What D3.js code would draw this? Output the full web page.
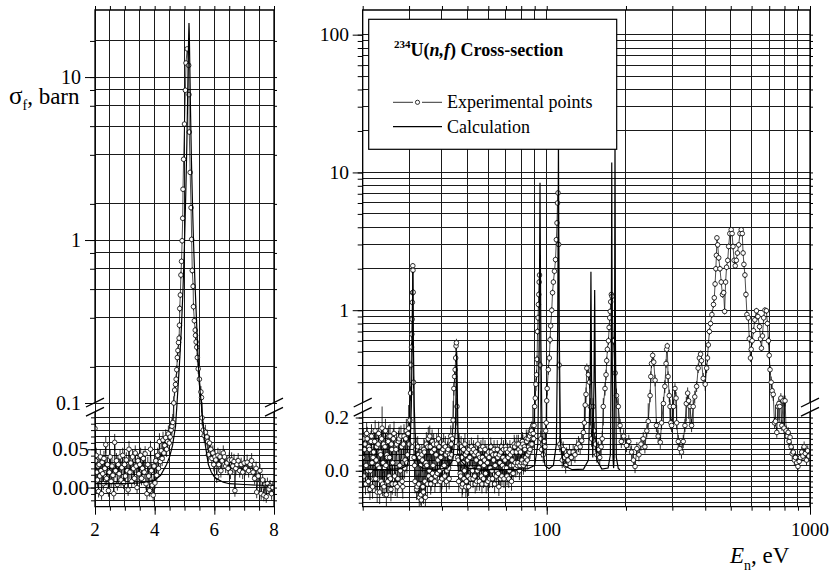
<!DOCTYPE html>
<html>
<head>
<meta charset="utf-8">
<script src="https://cdn.jsdelivr.net/npm/d3@7"></script>
<style>
  body { margin: 0; background: #fff; }
  svg { display: block; font-family: "Liberation Serif", "Times New Roman", serif; }
</style>
</head>
<body>
<svg id="chart" width="831" height="578"></svg>
<script>
// ---- tick labels ----
const leftXLabels = [2, 4, 6, 8];
const leftUpLabels = [0.1, 1, 10];
const leftLoLabels = [0, 0.05];
const rightXLabels = [100, 1000];
const rightUpLabels = [1, 10, 100];
const rightLoLabels = [0, 0.2];

// ---- 5 eV region: calculation [E, sigma] ----
const leftCalc = [
  [2.0,0.005],[2.5,0.005],[3.0,0.005],[3.5,0.006],[3.8,0.008],[4.0,0.0095],[4.2,0.016],[4.4,0.03],
  [4.5,0.04],[4.6,0.055],[4.7,0.08],[4.75,0.1],[4.8,0.14],[4.85,0.2],[4.9,0.3],[4.95,0.5],
  [5.0,0.95],[5.05,2.2],[5.08,4.0],[5.1,6.5],[5.12,11],[5.14,18],[5.15,21.5],[5.16,19],
  [5.18,11],[5.2,6.5],[5.23,3.2],[5.27,1.6],[5.3,1.0],[5.35,0.55],[5.4,0.33],[5.45,0.2],
  [5.5,0.13],[5.56,0.1],[5.62,0.085],[5.7,0.055],[5.8,0.03],[5.9,0.02],[6.0,0.014],[6.1,0.011],
  [6.3,0.007],[6.5,0.005],[7.0,0.004],[7.5,0.003],[8.0,0.003]
];

// ---- 5 eV region: experiment [E, sigma, error] ----
const leftExp = [
  [2.00,0.077,0.012],[2.02,0.035,0.01],[2.04,0.042,0.01],[2.06,0.020,0.009],[2.08,0.010,0.009],
  [2.10,0.028,0.01],[2.12,-0.005,0.008],[2.14,0.030,0.01],[2.16,0.015,0.009],[2.18,0.040,0.01],
  [2.20,0.022,0.009],[2.22,-0.008,0.008],[2.24,0.033,0.01],[2.26,0.018,0.009],[2.28,0.005,0.008],
  [2.30,0.038,0.01],[2.33,0.025,0.009],[2.36,0.056,0.011],[2.39,0.012,0.009],[2.42,0.030,0.01],
  [2.45,-0.004,0.008],[2.48,0.020,0.009],[2.51,0.040,0.01],[2.54,0.008,0.008],[2.57,0.028,0.01],
  [2.60,0.016,0.009],[2.63,-0.008,0.008],[2.66,0.059,0.011],[2.69,0.022,0.009],[2.72,0.035,0.01],
  [2.75,0.004,0.008],[2.78,0.030,0.01],[2.81,0.018,0.009],[2.84,0.040,0.01],[2.87,0.010,0.009],
  [2.90,0.026,0.009],[2.93,0.042,0.01],[2.96,0.006,0.008],[2.99,0.030,0.01],[3.02,0.015,0.009],
  [3.05,0.036,0.01],[3.08,0.022,0.009],[3.11,-0.003,0.008],[3.14,0.050,0.011],[3.17,0.020,0.009],
  [3.20,0.032,0.01],[3.23,0.008,0.008],[3.26,0.040,0.01],[3.29,0.025,0.009],[3.32,0.012,0.009],
  [3.35,0.045,0.01],[3.38,0.028,0.009],[3.41,0.000,0.008],[3.44,0.035,0.01],[3.47,0.018,0.009],
  [3.50,0.030,0.01],[3.53,0.042,0.01],[3.56,0.012,0.009],[3.59,0.025,0.009],[3.62,0.038,0.01],
  [3.65,0.020,0.009],[3.68,0.044,0.01],[3.71,0.005,0.008],[3.74,-0.008,0.008],[3.77,0.030,0.01],
  [3.80,0.015,0.009],[3.83,-0.004,0.008],[3.86,0.050,0.011],[3.89,0.022,0.009],[3.92,0.003,0.008],
  [3.95,-0.010,0.008],[3.98,0.028,0.009],[4.01,0.006,0.008],[4.04,0.035,0.01],[4.07,0.016,0.009],
  [4.10,0.042,0.01],[4.13,0.025,0.009],[4.16,0.060,0.011],[4.19,0.034,0.01],[4.22,0.048,0.01],
  [4.25,0.038,0.01],[4.28,0.062,0.011],[4.31,0.045,0.01],[4.34,0.055,0.01],[4.37,0.065,0.011],
  [4.40,0.050,0.01],[4.43,0.060,0.01],[4.46,0.070,0.011],[4.49,0.058,0.01],[4.52,0.066,0.01],
  [4.55,0.075,0.011],[4.58,0.080,0.011],[4.61,0.085,0.011],[4.64,0.100,0.01],[4.67,0.120,0.01],
  [4.70,0.130,0.01],[4.72,0.140,0.01],[4.74,0.160,0.01],[4.76,0.190,0.012],[4.78,0.210,0.012],
  [4.80,0.235,0.013],[4.82,0.250,0.014],[4.83,0.300,0.015],[4.84,0.380,0.02],[4.86,0.460,0.02],
  [4.88,0.610,0.03],[4.90,0.740,0.03],[4.92,0.990,0.04],[4.94,1.36,0.05],[4.95,2.05,0.07],
  [4.97,3.13,0.1],[5.00,5.15,0.15],[5.03,8.3,0.25],[5.05,12.2,0.35],[5.09,14.9,0.4],
  [5.14,11.8,0.35],[5.15,7.8,0.25],[5.16,4.6,0.15],[5.19,2.6,0.09],[5.22,1.58,0.06],
  [5.24,1.01,0.04],[5.26,0.65,0.03],[5.29,0.52,0.025],[5.30,0.39,0.02],[5.33,0.32,0.015],
  [5.36,0.28,0.014],[5.37,0.26,0.013],[5.39,0.237,0.012],[5.41,0.22,0.012],[5.43,0.19,0.012],
  [5.46,0.162,0.011],[5.50,0.14,0.01],[5.55,0.117,0.01],[5.57,0.108,0.01],[5.59,0.091,0.01],
  [5.63,0.075,0.01],[5.66,0.068,0.01],[5.70,0.072,0.01],[5.72,0.064,0.01],[5.75,0.066,0.01],
  [5.78,0.060,0.01],[5.80,0.043,0.009],[5.84,0.058,0.01],[5.88,0.050,0.01],[5.92,0.038,0.009],
  [5.95,0.045,0.01],[5.98,0.030,0.009],[6.02,0.040,0.01],[6.05,0.036,0.009],[6.08,0.014,0.008],
  [6.12,0.042,0.01],[6.15,0.030,0.009],[6.19,0.040,0.01],[6.22,0.022,0.009],[6.26,0.035,0.01],
  [6.30,0.045,0.01],[6.34,0.040,0.01],[6.38,0.028,0.009],[6.42,0.032,0.009],[6.46,0.025,0.009],
  [6.50,0.036,0.01],[6.54,0.020,0.009],[6.58,0.036,0.01],[6.62,0.028,0.009],[6.66,0.034,0.01],
  [6.69,-0.004,0.008],[6.72,0.025,0.009],[6.76,0.030,0.009],[6.80,0.035,0.01],[6.85,0.022,0.009],
  [6.90,0.030,0.009],[6.95,0.020,0.009],[7.00,0.032,0.01],[7.05,0.025,0.009],[7.10,0.033,0.01],
  [7.15,0.022,0.009],[7.20,0.030,0.009],[7.25,0.035,0.01],[7.30,0.020,0.009],[7.35,0.012,0.008],
  [7.40,0.025,0.009],[7.42,-0.006,0.008],[7.47,0.015,0.008],[7.53,0.022,0.009],[7.57,-0.008,0.008],
  [7.62,0.010,0.008],[7.66,-0.010,0.008],[7.70,0.004,0.008],[7.74,-0.012,0.008],[7.78,0.005,0.008],
  [7.83,-0.002,0.008],[7.87,0.002,0.008],[7.92,-0.008,0.008],[7.96,0.000,0.008]
];

// ---- 20-1000 eV region: calculation [E, sigma] ----
const rightCalc = [
  [20,0.004],[25,0.005],[28,0.008],[29.5,0.02],[30.2,0.06],[30.6,0.2],[30.85,0.6],[31.0,1.9],
  [31.15,0.6],[31.4,0.2],[31.8,0.06],[32.6,0.02],[34,0.008],[38,0.005],[42,0.01],[44,0.04],
  [45.0,0.15],[45.5,0.5],[46.0,0.15],[47,0.04],[50,0.01],[60,0.004],[75,0.004],[85,0.008],
  [90,0.02],[92.5,0.1],[93.6,0.6],[94.0,2.5],[94.3,8.4],[94.6,2.5],[95.0,0.6],[96.1,0.1],
  [98.5,0.02],[102,0.008],[106,0.02],[108.8,0.1],[110.1,0.8],[110.5,4],[110.8,18],[111.1,4],
  [111.5,0.8],[112.8,0.1],[116,0.02],[125,0.004],[138,0.006],[144,0.04],[146.3,0.3],[147.2,1.9],
  [148.1,0.3],[149.6,0.05],[151.2,0.3],[152.1,1.4],[153,0.3],[155,0.04],[162,0.006],[171,0.01],
  [174.5,0.06],[175.9,0.5],[176.6,11.8],[177.3,0.5],[178.5,0.05],[179.5,0.01],[180.3,0.05],
  [181.0,0.6],[181.7,20],[182.4,0.6],[183.8,0.05],[187,0.008],[190,0.004]
];

// ---- 20-1000 eV region: experiment [E, sigma, error] ----
const rightExp = [
  [20.0,.05,.045],[20.1,.12,.04],[20.2,-.02,.045],[20.3,.08,.04],[20.4,.10,.045],[20.5,-.05,.04],
  [20.6,.02,.045],[20.7,.14,.04],[20.8,.12,.045],[20.9,.0,.04],[21.0,-.04,.045],[21.1,.09,.04],
  [21.2,.08,.045],[21.3,-.07,.04],[21.4,.0,.045],[21.5,.11,.04],[21.6,.13,.045],[21.7,.03,.04],
  [21.8,-.06,.045],[21.9,.05,.04],[22.0,.07,.045],[22.1,-.03,.04],[22.2,.11,.045],[22.3,.15,.04],
  [22.4,-.03,.045],[22.5,.04,.04],[22.6,.09,.045],[22.7,-.08,.04],[22.8,.02,.045],[22.9,.10,.04],
  [23.0,.14,.045],[23.1,.01,.04],[23.2,-.08,.045],[23.3,.07,.04],[23.4,.06,.045],[23.5,-.04,.04],
  [23.6,.12,.045],[23.7,.16,.04],[23.8,-.05,.045],[23.9,.03,.04],[24.0,.10,.045],[24.1,-.06,.04],
  [24.2,.01,.045],[24.3,.09,.04],[24.4,.15,.045],[24.5,.02,.04],[24.6,-.09,.045],[24.7,.06,.04],
  [24.8,.05,.045],[24.9,-.04,.04],[25.0,.11,.045],[25.1,.13,.04],[25.2,-.02,.045],[25.3,.05,.04],
  [25.4,.13,.045],[25.5,-.03,.04],[25.6,-.07,.045],[25.7,.10,.04],[25.8,.08,.045],[25.9,-.05,.04],
  [26.0,.03,.045],[26.15,.12,.04],[26.3,.14,.045],[26.45,-.02,.04],[26.6,-.05,.045],[26.75,.08,.04],
  [26.9,.10,.045],[27.05,-.06,.04],[27.2,-.03,.045],[27.35,.11,.04],[27.5,.12,.045],[27.65,.02,.04],
  [27.8,.0,.045],[27.95,.13,.04],[28.1,.09,.045],[28.25,-.04,.04],[28.4,-.06,.045],[28.55,.10,.04],
  [28.7,.13,.045],[28.85,.01,.04],[29.0,.04,.045],[29.15,.12,.04],[29.3,.15,.045],[29.45,.03,.04],
  [29.6,.06,.045],[29.75,.14,.04],[29.9,.16,.045],[30.05,.10,.04],
  [30.2,0.19,.03],[30.4,0.25,.03],[30.55,0.40,.03],[30.65,0.54,.04],[30.75,0.67,.04],[30.82,0.86,.05],
  [30.88,1.14,.06],[30.94,1.34,.07],[31.0,2.1,.1],[31.04,1.95,.1],[31.1,1.35,.07],[31.2,0.30,.03],
  [31.35,0.05,.04],
  [31.5,.02,.04],[31.6,-.04,.045],[31.75,.10,.04],[31.9,.08,.045],[32.05,-.07,.04],[32.2,-.06,.045],
  [32.35,.09,.04],[32.5,.06,.045],[32.65,-.05,.04],[32.8,-.10,.045],[32.95,.05,.04],[33.1,.02,.045],
  [33.25,-.09,.04],[33.4,-.11,.045],[33.55,.06,.04],[33.7,.04,.045],[33.85,-.06,.04],[34.0,-.08,.045],
  [34.15,.08,.04],[34.3,.07,.045],[34.45,-.04,.04],[34.6,-.10,.045],[34.75,.03,.04],[34.9,.10,.045],
  [35.05,.02,.04],[35.2,-.05,.045],[35.35,.09,.04],[35.5,.12,.045],[35.65,-.02,.04],[35.8,.0,.045],
  [35.95,.13,.04],[36.1,.09,.045],[36.25,-.05,.04],[36.4,-.03,.045],[36.55,.07,.04],[36.7,.11,.045],
  [36.85,-.01,.04],[37.0,.02,.04],[37.2,.10,.04],[37.4,.08,.04],[37.6,-.04,.04],[37.8,-.02,.04],
  [38.0,.06,.04],[38.2,.10,.04],[38.4,-.01,.04],[38.6,.04,.04],[38.8,.12,.04],[39.0,.09,.04],
  [39.2,.0,.04],[39.4,-.04,.04],[39.6,.05,.04],[39.8,.07,.04],[40.0,-.03,.04],[40.2,.01,.04],
  [40.4,.08,.04],[40.6,.10,.04],[40.8,.02,.04],[41.0,-.02,.04],[41.2,.09,.04],[41.4,.06,.04],
  [41.6,-.04,.04],[41.8,.0,.04],[42.0,.07,.04],[42.2,.08,.04],[42.4,.01,.04],[42.6,-.03,.04],
  [42.8,.06,.04],[43.0,.05,.04],[43.2,.13,.04],[43.4,.10,.04],[43.6,.06,.04],[43.8,.12,.04],
  [44.1,0.19,.03],[44.4,0.27,.03],[44.7,0.33,.03],[44.9,0.37,.03],[45.1,0.45,.03],[45.25,0.55,.04],
  [45.4,0.58,.04],[45.6,0.20,.03],[45.9,0.05,.035],
  [46.1,.04,.04],[46.3,-.04,.04],[46.5,.10,.04],[46.7,.07,.04],[46.9,-.01,.04],[47.1,-.02,.04],
  [47.3,.09,.04],[47.5,.05,.04],[47.7,-.06,.04],[47.9,-.05,.04],[48.1,.03,.04],[48.3,.08,.04],
  [48.5,-.03,.04],[48.7,.0,.04],[48.9,.10,.04],[49.1,.06,.04],[49.3,-.06,.04],[49.5,-.04,.04],
  [49.75,.07,.035],[50.0,.04,.035],[50.25,-.02,.035],[50.5,-.06,.035],[50.75,.08,.035],[51.0,.05,.035],
  [51.25,-.03,.035],[51.5,.01,.035],[51.75,.09,.035],[52.0,.07,.035],[52.25,.0,.035],[52.5,-.03,.035],
  [52.75,.08,.035],[53.0,.06,.035],[53.25,-.02,.035],[53.5,-.05,.035],[53.75,.07,.035],[54.0,.04,.035],
  [54.25,-.04,.035],[54.5,.0,.035],[54.75,.10,.035],[55.0,.06,.035],[55.25,.01,.035],[55.5,-.04,.035],
  [55.75,.05,.035],[56.0,.03,.035],[56.25,.08,.035],[56.5,-.02,.035],[56.75,-.05,.035],[57.0,.05,.035],
  [57.25,.09,.035],[57.5,-.03,.035],[57.75,.02,.035],[58.0,.04,.035],[58.3,.08,.035],[58.6,-.01,.035],
  [58.9,-.05,.035],[59.2,.06,.035],[59.5,.03,.035],[59.8,-.04,.035],[60.1,.07,.035],[60.4,.05,.035],
  [60.7,-.03,.035],[61.0,.01,.035],[61.3,.09,.035],[61.6,.07,.035],[61.9,.0,.035],[62.2,-.03,.035],
  [62.5,.06,.035],[62.8,.04,.035],[63.1,.08,.035],[63.4,-.05,.035],[63.7,.02,.035],[64.0,.06,.035],
  [64.3,-.02,.035],[64.6,.0,.035],[64.9,.08,.035],[65.2,.05,.035],[65.5,-.01,.035],[65.8,-.06,.035],
  [66.1,.06,.035],[66.4,.03,.035],[66.7,-.03,.035],[67.0,.07,.035],[67.3,.09,.035],[67.6,-.02,.035],
  [67.9,.02,.035],[68.2,.05,.035],[68.5,.08,.035],[68.8,-.03,.035],[69.1,.01,.035],[69.4,.04,.035],
  [69.7,.09,.035],[70.0,.08,.035],[70.35,.01,.035],[70.7,-.02,.035],[71.05,.07,.035],[71.4,.05,.035],
  [71.75,-.03,.035],[72.1,.0,.035],[72.45,.08,.035],[72.8,.06,.035],[73.15,.02,.035],[73.5,-.04,.035],
  [73.85,.04,.035],[74.2,.07,.035],[74.55,-.01,.035],[74.9,.02,.035],[75.25,.10,.035],[75.6,.09,.035],
  [75.95,.03,.035],[76.3,.01,.035],[76.65,.07,.035],[77.0,.10,.035],[77.35,.02,.035],[77.7,.03,.035],
  [78.05,.10,.035],[78.4,.08,.035],[78.75,.0,.035],[79.1,.02,.035],[79.45,.07,.035],[79.8,.09,.035],
  [80.15,.03,.035],[80.5,.04,.035],[80.85,.11,.035],[81.2,.10,.035],[81.55,.02,.035],[81.9,.03,.035],
  [82.25,.09,.035],[82.6,.08,.035],[82.95,.03,.035],[83.3,.05,.035],[83.65,.12,.035],[84.0,.11,.035],
  [84.35,.04,.035],[84.7,.06,.035],[85.05,.12,.035],[85.4,.09,.035],[85.75,.07,.035],[86.1,.13,.035],
  [86.45,.08,.035],[86.8,.10,.035],[87.15,.14,.035],[87.5,.15,.035],[87.85,.10,.035],[88.2,.12,.035],
  [88.55,.17,.035],[88.9,.14,.035],[89.2,.12,.035],[89.5,.17,.035],
  [90.0,0.20,.03],[90.5,0.23,.03],[91.0,0.29,.03],[91.5,0.34,.03],[91.9,0.44,.03],[92.3,0.70,.04],
  [92.7,0.88,.05],[93.0,1.1,.06],[93.3,1.3,.07],[93.6,1.6,.08],[93.9,1.8,.09],[94.4,0.40,.03],
  [95.0,0.12,.03],[95.6,0.08,.03],[96.3,0.10,.03],[97.0,0.06,.03],[97.7,0.11,.03],[98.4,0.09,.03],
  [99.1,0.15,.03],[99.6,0.18,.03],[100.0,0.22,.03],[100.4,0.27,.03],[101.4,0.37,.03],[102.3,0.45,.03],
  [103.0,0.61,.04],[103.5,0.77,.04],[104.5,1.0,.05],[105.2,1.34,.07],[106.0,1.6,.08],[107.0,1.92,.1],
  [108.0,2.33,.12],[108.8,3.25,.15],[109.4,4.3,.2],[109.9,6.0,.25],[110.4,7.1,.3],[111.0,3.0,.12],
  [111.5,0.40,.03],[112.2,0.10,.03],[113.5,0.09,.03],[114.5,0.04,.03],[115.5,0.08,.03],[116.5,0.05,.03],
  [118.0,0.02,.03],[119.0,0.058,.03],[120.5,0.04,.03],[122.0,0.07,.03],[124.0,0.05,.03],[126.0,0.07,.03],
  [128.0,0.06,.03],[130.0,0.087,.03],[132.0,0.10,.03],[134.0,0.09,.03],[135.8,0.113,.03],[137.8,0.144,.03],
  [139.0,0.18,.03],[140.0,0.205,.03],[141.0,0.245,.03],[142.0,0.38,.03],[144.0,0.34,.03],[145.5,0.30,.03],
  [146.5,0.20,.03],[148.0,0.12,.03],[150.0,0.20,.03],[151.5,0.15,.03],[153.0,0.10,.03],[155.0,0.06,.03],
  [157.0,0.08,.03],[159.0,0.05,.03],[161.0,0.09,.03],[162.5,0.12,.03],[164.0,0.20,.03],[166.5,0.27,.03],
  [168.0,0.34,.03],[169.0,0.43,.03],[170.0,0.52,.03],[171.6,0.60,.04],[172.6,0.75,.04],[173.5,0.88,.05],
  [174.3,0.98,.05],[175.0,1.15,.06],[176.0,1.30,.07],[177.0,1.26,.07],[179.0,0.60,.04],[182.0,0.35,.03],
  [184.0,0.24,.03],[187.0,0.20,.03],[190.0,0.17,.025],[192.0,0.11,.025],[196.0,0.13,.025],[201.0,0.095,.025],
  [205.0,0.11,.025],[210.0,0.07,.025],[213.5,0.04,.025],[216.5,0.016,.025],[220.0,0.083,.025],[224.0,0.06,.025],
  [228.0,0.10,.025],[232.6,0.12,.025],[236.0,0.09,.025],[240.0,0.15,.025],[243.0,0.186,.025],[247.0,0.24,.025],
  [248.5,0.33,.03],[250.0,0.41,.03],[252.6,0.47,.03],[255.0,0.42,.03],[258.0,0.31,.03],[261.0,0.17,.025],
  [265.0,0.13,.025],[270.0,0.107,.025],[273.0,0.18,.025],[277.5,0.21,.025],[281.0,0.28,.03],[284.0,0.41,.03],
  [285.5,0.52,.03],[287.0,0.55,.03],[289.0,0.33,.03],[292.0,0.24,.025],[294.0,0.20,.025],[296.0,0.18,.025],
  [298.0,0.17,.025],[303.0,0.20,.025],[307.0,0.27,.025],[310.0,0.23,.025],[311.6,0.18,.025],[316.0,0.11,.025],
  [320.5,0.083,.025],[325.0,0.07,.025],[330.0,0.11,.025],[335.0,0.17,.025],[339.0,0.21,.025],[343.0,0.25,.025],
  [346.0,0.22,.025],[350.0,0.20,.025],[355.0,0.17,.025],[360.0,0.20,.025],[365.0,0.235,.025],[371.0,0.28,.025],
  [376.0,0.38,.03],[380.0,0.45,.03],[384.0,0.48,.03],[387.0,0.43,.03],[393.0,0.32,.03],[400.0,0.29,.03],
  [405.0,0.38,.03],[408.0,0.45,.03],[411.0,0.56,.03],[415.0,0.70,.04],[419.0,0.80,.04],[424.0,0.93,.05],
  [430.0,1.10,.06],[433.0,1.23,.06],[436.0,1.55,.08],[439.0,2.0,.1],[441.0,2.5,.12],[443.0,3.35,.15],
  [446.0,2.98,.14],[450.0,2.4,.12],[455.0,2.0,.1],[460.0,1.6,.08],[465.0,1.3,.07],[470.0,1.34,.07],
  [474.0,0.98,.05],[478.0,1.6,.08],[482.0,2.05,.1],[487.0,2.3,.11],[491.0,2.9,.14],[496.0,3.6,.16],
  [502.0,3.84,.17],[506.0,3.6,.16],[510.0,2.9,.14],[515.0,2.3,.11],[520.0,2.1,.1],[525.0,2.3,.11],
  [530.0,2.6,.12],[536.0,2.98,.14],[542.0,3.6,.16],[548.0,3.84,.17],[553.0,3.6,.16],[557.0,2.6,.12],
  [561.0,2.15,.1],[566.0,1.8,.09],[571.0,1.3,.07],[576.0,0.93,.05],[583.0,0.88,.05],[588.0,0.62,.04],
  [594.0,0.45,.03],[598.0,0.52,.03],[603.0,0.60,.04],[610.0,0.71,.04],[617.0,0.85,.05],[626.0,0.99,.05],
  [634.0,0.90,.05],[643.0,0.76,.04],[649.0,0.62,.04],[654.0,0.53,.03],[660.0,0.65,.04],[667.0,0.88,.05],
  [674.0,1.0,.05],[683.0,0.99,.05],[689.0,0.80,.04],[695.0,0.60,.04],[700.0,0.47,.03],[705.0,0.37,.03],
  [712.0,0.30,.03],[718.0,0.26,.03],[725.0,0.245,.025],[733.0,0.18,.02],[740.0,0.186,.02],[748.0,0.144,.02],
  [755.0,0.20,.02],[762.0,0.21,.02],[768.0,0.20,.02],[775.0,0.23,.02],[782.0,0.17,.02],[790.0,0.22,.02],
  [797.0,0.16,.02],[804.0,0.22,.02],[812.0,0.15,.02],[820.0,0.13,.02],[826.0,0.144,.02],[833.0,0.11,.02],
  [840.0,0.126,.02],[848.0,0.09,.02],[856.0,0.064,.02],[864.0,0.07,.02],[872.0,0.04,.02],[880.0,0.05,.02],
  [890.0,0.03,.02],[900.0,0.016,.02],[910.0,0.035,.02],[920.0,0.05,.02],[930.0,0.07,.02],[940.0,0.055,.02],
  [950.0,0.09,.02],[960.0,0.065,.02],[970.0,0.04,.02],[980.0,0.075,.02],[990.0,0.055,.02]
];

const svg = d3.select('#chart');
const yTop = 10, yBottom = 506.7;
const slashA = 402.6, slashB = 411.8; // centres of the axis-break marks

// grid values for the log parts
const sixths = (decades) => decades.flatMap(d => d3.range(1, 7).map(k => d * k / 6));
const nines = (decades) => decades.flatMap(d => d3.range(1, 10).map(k => d * k));

const panels = [
  {
    id: 'p1',
    x: d3.scaleLinear().domain([2, 8]).range([95, 274]),
    yUp: d3.scaleLog().domain([0.1, 25.8]).range([403, yTop]),
    yLo: d3.scaleLinear().domain([-0.025, 0.0917]).range([yBottom, 417.3]),
    brk: 0.1,
    xGrid: d3.range(2, 8.001, 0.5),
    upGrid: [0.1].concat(sixths([1, 10]), [100 / 6]),
    loGrid: d3.range(-2, 12).map(k => k / 120),
    xLabels: leftXLabels, upLabels: leftUpLabels, loLabels: leftLoLabels,
    fmtUp: d => String(d), fmtLo: d3.format('.2f'),
    upLabelX: 81, loLabelX: 89, upSize: 20, loSize: 21,
    exp: leftExp, calc: leftCalc
  },
  {
    id: 'p2',
    x: d3.scaleLog().domain([20, 1000]).range([362.7, 810]),
    yUp: d3.scaleLog().domain([0.2, 151]).range([406.5, yTop]),
    yLo: d3.scaleLinear().domain([-0.135, 0.2]).range([yBottom, 417.5]),
    brk: 0.2,
    xGrid: [20].concat(d3.range(3, 10).map(k => k * 10), d3.range(1, 11).map(k => k * 100)),
    upGrid: nines([0.1, 1, 10]).filter(v => v > 0.25).concat([100]),
    loGrid: d3.range(-6, 11).map(k => k * 0.02),
    xLabels: rightXLabels, upLabels: rightUpLabels, loLabels: rightLoLabels,
    fmtUp: d => String(d), fmtLo: d3.format('.1f'),
    upLabelX: 349, loLabelX: 349, upSize: 19.5, loSize: 19.5,
    exp: rightExp, calc: rightCalc
  }
];

panels.forEach(p => {
  const [x0, x1] = p.x.range();
  const yOf = v => (v >= p.brk ? p.yUp(v) : p.yLo(v));
  const g = svg.append('g').attr('class', p.id);

  // grid
  const grid = g.append('g').attr('stroke', '#1a1a1a').attr('stroke-width', 1)
    .attr('shape-rendering', 'crispEdges');
  grid.selectAll('.vx').data(p.xGrid).join('line').attr('class', 'vx')
    .attr('x1', d => p.x(d)).attr('x2', d => p.x(d)).attr('y1', yTop).attr('y2', yBottom);
  grid.selectAll('.hu').data(p.upGrid).join('line').attr('class', 'hu')
    .attr('x1', x0).attr('x2', x1).attr('y1', d => p.yUp(d)).attr('y2', d => p.yUp(d));
  grid.selectAll('.hl').data(p.loGrid).join('line').attr('class', 'hl')
    .attr('x1', x0).attr('x2', x1).attr('y1', d => p.yLo(d)).attr('y2', d => p.yLo(d));

  // data
  svg.append('clipPath').attr('id', 'clip-' + p.id)
    .append('rect').attr('x', x0).attr('y', yTop).attr('width', x1 - x0).attr('height', yBottom - yTop);
  const plot = g.append('g').attr('clip-path', `url(#clip-${p.id})`);
  const line = d3.line().x(d => p.x(d[0])).y(d => yOf(d[1]));

  plot.append('path').datum(p.exp).attr('d', line)
    .attr('fill', 'none').attr('stroke', '#000').attr('stroke-width', 0.7);
  plot.append('g').attr('stroke', '#000').attr('stroke-width', 0.8)
    .selectAll('line').data(p.exp).join('line')
    .attr('x1', d => p.x(d[0])).attr('x2', d => p.x(d[0]))
    .attr('y1', d => yOf(d[1] - d[2])).attr('y2', d => yOf(d[1] + d[2]));
  plot.append('g').selectAll('circle').data(p.exp).join('circle')
    .attr('cx', d => p.x(d[0])).attr('cy', d => yOf(d[1])).attr('r', 2.3)
    .attr('fill', '#fff').attr('stroke', '#000').attr('stroke-width', 0.8);
  plot.append('path').datum(p.calc).attr('d', line)
    .attr('fill', 'none').attr('stroke', '#000').attr('stroke-width', 1.2);

  // ticks
  const tick = (axis, tx, ty) => g.append('g').attr('transform', `translate(${tx},${ty})`)
    .call(axis).call(s => s.select('.domain').remove()).call(s => s.selectAll('text').remove());
  tick(d3.axisLeft(p.yUp).tickValues(p.upGrid).tickSize(5), x0, 0);
  tick(d3.axisLeft(p.yUp).tickValues(p.upLabels).tickSize(10), x0, 0);
  tick(d3.axisLeft(p.yLo).tickValues(p.loGrid).tickSize(4), x0, 0);
  tick(d3.axisLeft(p.yLo).tickValues(p.loLabels).tickSize(7), x0, 0);
  tick(d3.axisRight(p.yUp).tickValues(p.upGrid).tickSize(3), x1, 0);
  tick(d3.axisRight(p.yLo).tickValues(p.loGrid).tickSize(3), x1, 0);
  tick(d3.axisBottom(p.x).tickValues(p.xGrid).tickSize(-4), 0, yTop);
  tick(d3.axisBottom(p.x).tickValues(p.xGrid).tickSize(4), 0, yBottom);
  tick(d3.axisBottom(p.x).tickValues(p.xLabels).tickSize(8), 0, yBottom);
  g.selectAll('.tick line').attr('stroke', '#000');

  // frame with the axis break
  const frame = g.append('g').attr('stroke', '#000').attr('stroke-width', 1.3).attr('fill', 'none');
  frame.append('path').attr('d',
    `M${x0},${slashA}V${yTop}H${x1}V${slashA}M${x0},${slashB}V${yBottom}H${x1}V${slashB}`);
  [x0, x1].forEach(xb => [slashA, slashB].forEach(yb => {
    frame.append('line').attr('x1', xb - 9).attr('y1', yb + 4.4).attr('x2', xb + 9).attr('y2', yb - 4.4);
  }));

  // tick labels
  const lab = g.append('g').attr('fill', '#000');
  lab.selectAll('.lu').data(p.upLabels).join('text').attr('class', 'lu')
    .attr('font-size', p.upSize)
    .attr('x', p.upLabelX).attr('y', d => p.yUp(d)).attr('dy', '0.34em')
    .attr('text-anchor', 'end').text(p.fmtUp);
  lab.selectAll('.ll').data(p.loLabels).join('text').attr('class', 'll')
    .attr('font-size', p.loSize)
    .attr('x', p.loLabelX).attr('y', d => p.yLo(d)).attr('dy', '0.34em')
    .attr('text-anchor', 'end').text(p.fmtLo);
  lab.selectAll('.lx').data(p.xLabels).join('text').attr('class', 'lx')
    .attr('font-size', 19)
    .attr('x', d => p.x(d)).attr('y', 536).attr('text-anchor', 'middle').text(d => String(d));
});

// axis titles
const yTitle = svg.append('text').attr('x', 9).attr('y', 104).attr('font-size', 23);
yTitle.append('tspan').attr('font-size', 25).text('σ');
yTitle.append('tspan').attr('font-size', 14).attr('dy', 6).text('f');
yTitle.append('tspan').attr('dy', -6).text(', barn');

const xTitle = svg.append('text').attr('x', 730).attr('y', 563).attr('font-size', 23);
xTitle.append('tspan').attr('font-style', 'italic').text('E');
xTitle.append('tspan').attr('font-size', 14).attr('dy', 7).text('n');
xTitle.append('tspan').attr('dy', -7).text(', eV');

// legend
const leg = svg.append('g');
leg.append('rect').attr('x', 368.7).attr('y', 19.3).attr('width', 248).attr('height', 130)
  .attr('fill', '#fff').attr('stroke', '#000').attr('stroke-width', 1.2);
const title = leg.append('text').attr('x', 394).attr('y', 55.7).attr('font-size', 18).attr('font-weight', 'bold');
title.append('tspan').attr('font-size', 11).attr('dy', -8).text('234');
title.append('tspan').attr('dy', 8).text('U(');
title.append('tspan').attr('font-style', 'italic').text('n,f');
title.append('tspan').text(') Cross-section');

const legLine = leg.append('g').attr('stroke', '#000');
legLine.append('line').attr('x1', 393).attr('x2', 413).attr('y1', 102.3).attr('y2', 102.3).attr('stroke-width', 0.8);
legLine.append('line').attr('x1', 422).attr('x2', 442).attr('y1', 102.3).attr('y2', 102.3).attr('stroke-width', 0.8);
leg.append('circle').attr('cx', 417.5).attr('cy', 102.3).attr('r', 2.1)
  .attr('fill', '#fff').attr('stroke', '#000').attr('stroke-width', 0.8);
leg.append('text').attr('x', 447).attr('y', 108.3).attr('font-size', 18).text('Experimental points');
legLine.append('line').attr('x1', 393).attr('x2', 442).attr('y1', 126.7).attr('y2', 126.7).attr('stroke-width', 1.2);
leg.append('text').attr('x', 447).attr('y', 132.7).attr('font-size', 18).text('Calculation');
</script>
</body>
</html>
